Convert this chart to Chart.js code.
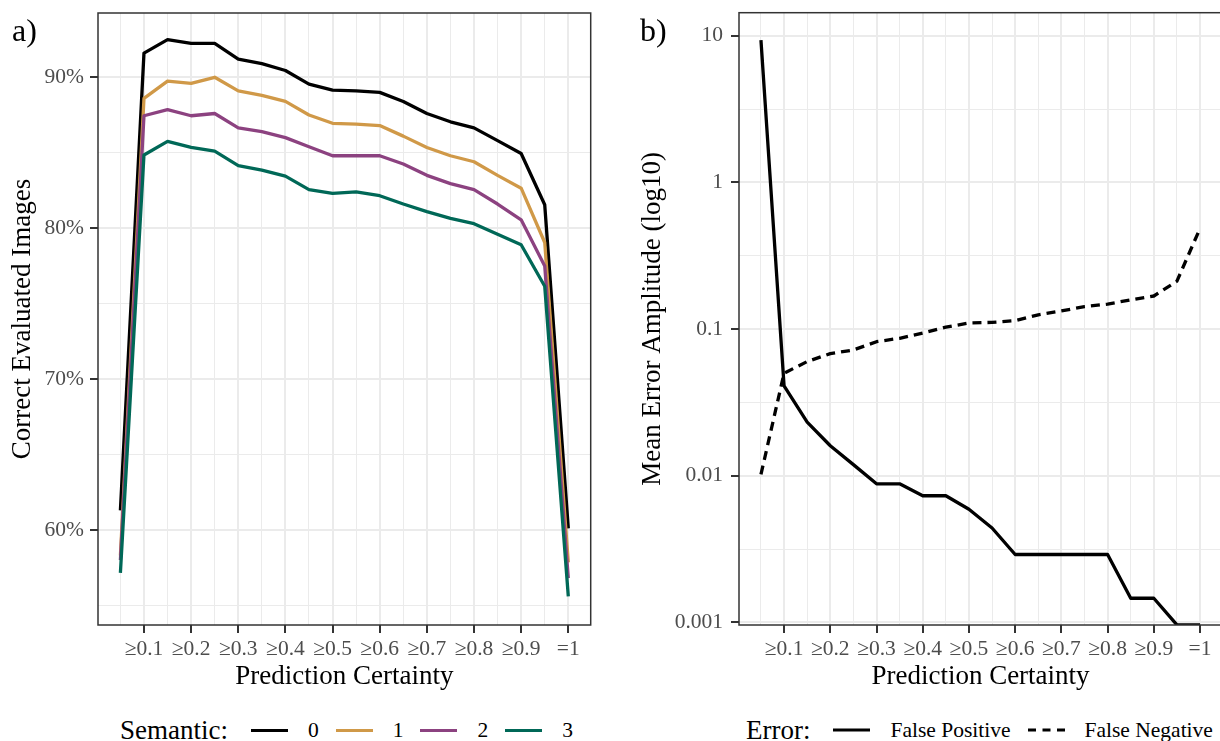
<!DOCTYPE html>
<html><head><meta charset="utf-8">
<script src="https://cdn.jsdelivr.net/npm/chart.js@4"></script>
<style>
html,body{margin:0;padding:0;background:#fff;overflow:hidden;width:1220px;height:741px;}
body{position:relative;font-family:"Liberation Serif","Times New Roman",serif;}
#wa{position:absolute;left:0;top:0;width:610px;height:700px;}
#wb{position:absolute;left:620px;top:0;width:620px;height:700px;}
.plab{position:absolute;top:14px;font-size:32px;line-height:32px;color:#000;}
.legend{position:absolute;top:714px;height:32px;display:flex;align-items:center;white-space:nowrap;font-size:21.5px;color:#000;}
.legend .ttl{font-size:27px;margin-right:23px;}
.legend .key{width:37px;height:3px;margin-right:20px;}
.legend .lab{margin-right:17px;}
.legend svg{margin-right:20px;display:block;}
</style>
</head><body>
<div id="wa"><canvas id="ca"></canvas></div>
<div id="wb"><canvas id="cb"></canvas></div>
<div class="plab" style="left:12px">a)</div>
<div class="plab" style="left:640px">b)</div>
<div class="legend" id="la" style="left:120px"></div>
<div class="legend" id="lb" style="left:746px"></div>
<script>
// ---- data ----
const certainty = [0.05,0.10,0.15,0.20,0.25,0.30,0.35,0.40,0.45,0.50,0.55,0.60,0.65,0.70,0.75,0.80,0.85,0.90,0.95,1.00];
const semantic0 = [61.3,91.6,92.5,92.25,92.25,91.2,90.9,90.45,89.55,89.15,89.1,89.0,88.4,87.6,87.05,86.65,85.8,84.95,81.55,60.1];
const semantic1 = [58.3,88.6,89.75,89.6,90.0,89.1,88.8,88.4,87.5,86.95,86.9,86.8,86.1,85.35,84.8,84.4,83.5,82.65,79.05,57.85];
const semantic2 = [58.0,87.45,87.85,87.45,87.6,86.65,86.4,86.0,85.4,84.8,84.8,84.8,84.25,83.5,82.95,82.55,81.6,80.55,77.5,56.8];
const semantic3 = [57.15,84.85,85.75,85.35,85.1,84.15,83.85,83.45,82.55,82.3,82.4,82.15,81.6,81.1,80.65,80.3,79.6,78.9,76.15,55.6];
const falsePositive = [9.35,0.041,0.0232,0.016,0.0119,0.0088,0.0088,0.0073,0.0073,0.0059,0.0044,0.0029,0.0029,0.0029,0.0029,0.0029,0.00146,0.00146,0.00096,0.00096];
const falseNegative = [0.0102,0.05,0.06,0.068,0.072,0.082,0.0865,0.094,0.103,0.11,0.111,0.114,0.125,0.133,0.142,0.148,0.158,0.168,0.212,0.486];
const xTickValues = [0.1,0.2,0.3,0.4,0.5,0.6,0.7,0.8,0.9,1.0];
const xTickLabels = ['≥0.1','≥0.2','≥0.3','≥0.4','≥0.5','≥0.6','≥0.7','≥0.8','≥0.9','=1'];
const pctTickValues = [60,70,80,90];
const pctTickLabels = ['60%','70%','80%','90%'];
const logTickValues = [0.001,0.01,0.1,1,10];
const logTickLabels = ['0.001','0.01','0.1','1','10'];
const semanticNames = ['0','1','2','3'];
const semanticColors = ['#000000','#D09948','#8C4280','#006857'];
const errorNames = ['False Positive','False Negative'];

// ---- helpers ----
const FONT = '"Liberation Serif","Times New Roman",serif';
function tickList(majors, labels, minors){
  const list = majors.map((v,i)=>({value:v, lbl:labels[i], maj:true}))
    .concat(minors.map(v=>({value:v, lbl:'', maj:false})));
  list.sort((a,b)=>a.value-b.value);
  return list;
}
const xTicks = tickList(xTickValues, xTickLabels, xTickValues.map(v=>+(v-0.05).toFixed(2)));
const pctTicks = tickList(pctTickValues, pctTickLabels, pctTickValues.map(v=>v-5));
const logMinor = [];
for(let i=0;i<logTickValues.length-1;i++) logMinor.push(Math.sqrt(logTickValues[i]*logTickValues[i+1]));
const logTicks = tickList(logTickValues, logTickLabels, logMinor);

function gridOpts(){
  return {
    color:'#EBEBEB',
    lineWidth: c => (c.tick && c.tick.maj) ? 2 : 1,
    tickColor: c => (c.tick && c.tick.maj) ? '#333333' : 'rgba(0,0,0,0)',
    tickWidth: c => (c.tick && c.tick.maj) ? 2 : 0.01,
    tickLength: 8,
    drawTicks:true
  };
}
function axisBase(list, pad){
  return {
    afterBuildTicks: s => { s.ticks = list.map(t=>({value:t.value, maj:t.maj, lbl:t.lbl})); },
    ticks:{autoSkip:false, maxRotation:0, minRotation:0, padding:pad, color:'#4D4D4D',
      font:{family:FONT, size:21.5, lineHeight:1.2},
      callback:(v,i)=> list[i] ? list[i].lbl : ''},
    grid:gridOpts(),
    border:{display:false}
  };
}
const panelBorder = {id:'panelBorder', afterDatasetsDraw(chart){
  const {ctx, chartArea:a} = chart; ctx.save(); ctx.strokeStyle='#333333'; ctx.lineWidth=1.5;
  ctx.strokeRect(a.left, a.top, a.right-a.left, a.bottom-a.top); ctx.restore(); }};

function xAxis(){
  return Object.assign(axisBase(xTicks, 3), {
    type:'linear', min:0.0025, max:1.0475,
    title:{display:true, text:'Prediction Certainty', color:'#000', font:{family:FONT,size:27,lineHeight:1.2}, padding:{top:0,bottom:7}},
    afterFit: s => { s.height = 75; s.paddingLeft = 0; s.paddingRight = 0; }
  });
}
function series(arr){ return certainty.map((x,i)=>({x:x, y:arr[i]})); }

// ---- chart a ----
const semSeries = [semantic0, semantic1, semantic2, semantic3];
new Chart(document.getElementById('ca'), {
  type:'line',
  data:{datasets: semSeries.map((arr,i)=>({
    label:semanticNames[i], data:series(arr), borderColor:semanticColors[i], backgroundColor:semanticColors[i],
    borderWidth:3.3, pointRadius:0, tension:0, borderJoinStyle:'round', order:3-i, fill:false}))},
  options:{
    responsive:true, maintainAspectRatio:false, animation:false,
    layout:{padding:{top:13, right:19.3, left:0, bottom:0}},
    plugins:{legend:{display:false}, tooltip:{enabled:false}},
    scales:{
      x: xAxis(),
      y: Object.assign(axisBase(pctTicks, 6), {
        type:'linear', min:53.7, max:94.26,
        title:{display:true, text:'Correct Evaluated Images', color:'#000', font:{family:FONT,size:27,lineHeight:1.2}, padding:{top:7,bottom:0}},
        afterFit: s => { s.width = 98; s.paddingTop = 0; s.paddingBottom = 0; }
      })
    }
  },
  plugins:[panelBorder]
});

// ---- chart b ----
const errSeries = [falsePositive, falseNegative];
new Chart(document.getElementById('cb'), {
  type:'line',
  data:{datasets: errSeries.map((arr,i)=>({
    label:errorNames[i], data:series(arr), borderColor:'#000', backgroundColor:'#000',
    borderWidth:3.3, pointRadius:0, tension:0, borderJoinStyle:'round', borderDash: i===1 ? [9,6] : [], fill:false}))},
  options:{
    responsive:true, maintainAspectRatio:false, animation:false,
    layout:{padding:{top:12.7, right:18, left:0, bottom:0}},
    plugins:{legend:{display:false}, tooltip:{enabled:false}},
    scales:{
      x: xAxis(),
      y: Object.assign(axisBase(logTicks, 8), {
        type:'logarithmic', min:0.000959, max:14.36,
        title:{display:true, text:'Mean Error Amplitude (log10)', color:'#000', font:{family:FONT,size:27,lineHeight:1.2}, padding:{top:17,bottom:0}},
        afterFit: s => { s.width = 119; s.paddingTop = 0; s.paddingBottom = 0; }
      })
    }
  },
  plugins:[panelBorder]
});

// ---- legends ----
const la = document.getElementById('la');
la.innerHTML = '<span class="ttl">Semantic:</span>' + semanticNames.map((n,i)=>
  '<span class="key" style="background:'+semanticColors[i]+'"></span><span class="lab">'+n+'</span>').join('');
const lb = document.getElementById('lb');
lb.innerHTML = '<span class="ttl">Error:</span>' + errorNames.map((n,i)=>
  '<svg width="37" height="6"><line x1="0" y1="3" x2="37" y2="3" stroke="#000" stroke-width="3" '+(i===1?'stroke-dasharray="8 6.5"':'')+'/></svg><span class="lab">'+n+'</span>').join('');
</script>
</body></html>
